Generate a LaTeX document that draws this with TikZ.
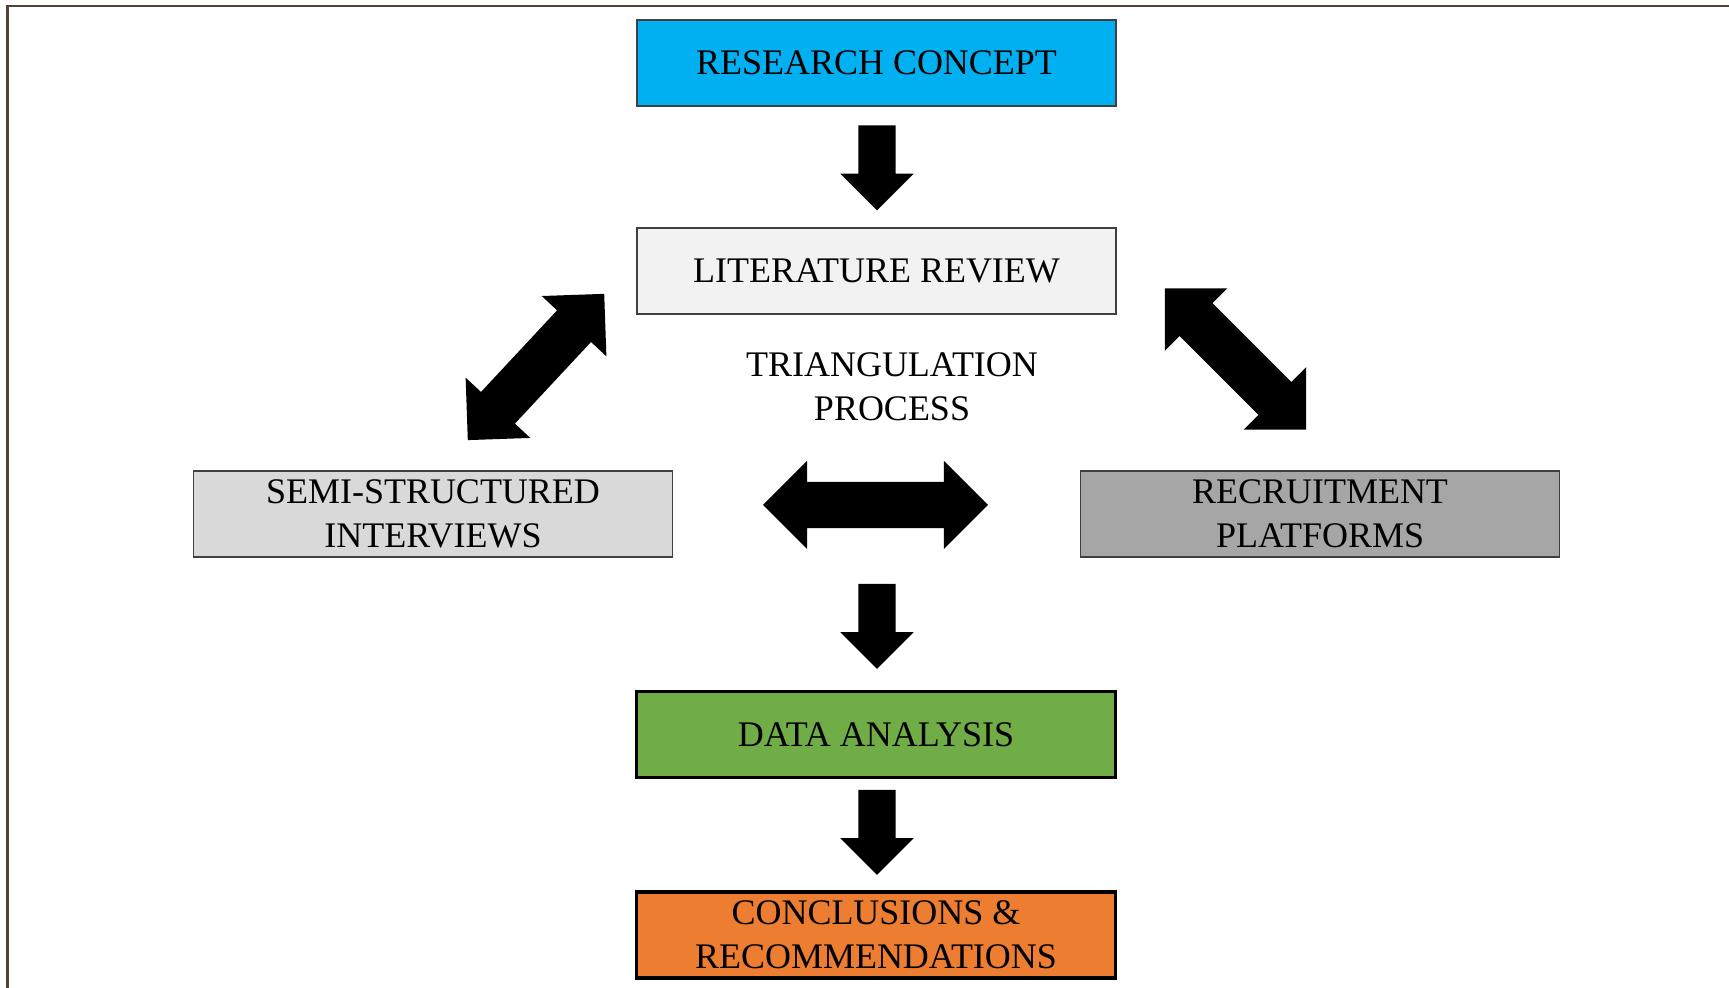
\documentclass[tikz,border=0pt]{standalone}
\usepackage{fontspec}
\setmainfont{Liberation Serif}
\usetikzlibrary{shapes.arrows}

\definecolor{framecol}{HTML}{4E4334}
\definecolor{conceptblue}{HTML}{00B0F0}
\definecolor{litgray}{HTML}{F2F2F2}
\definecolor{semigray}{HTML}{D9D9D9}
\definecolor{recgray}{HTML}{A6A6A6}
\definecolor{datagreen}{HTML}{70AD47}
\definecolor{conclorange}{HTML}{ED7D31}

\tikzset{
  stage/.style={draw=black!75,line width=0.4pt,minimum width=4.79cm,minimum height=0.86cm,
    inner sep=0pt,align=center,font=\fontsize{10.24}{12.5}\selectfont},
  boldstage/.style={stage,draw=black,line width=0.9pt},
  downarrow/.style={single arrow,fill=black,inner xsep=0pt,inner ysep=0.18cm,minimum height=0.85cm,
    single arrow head extend=0.18cm,rotate=-90},
  twoway/.style={double arrow,fill=black,inner xsep=0pt,inner ysep=0.225cm,
    double arrow head extend=0.21cm}
}

\begin{document}
\begin{tikzpicture}
\useasboundingbox(0,0)rectangle(17.29,9.88);
\draw[framecol,line width=0.6pt](17.29,9.82)--(0.075,9.82)--(0.075,0);
% boxes
\node[stage,fill=conceptblue](concept)at(8.765,9.25){RESEARCH CONCEPT};
\node[stage,fill=litgray](litreview)at(8.765,7.17){LITERATURE REVIEW};
\node[stage,fill=semigray](interviews)at(4.33,4.74){SEMI-STRUCTURED\\INTERVIEWS};
\node[stage,fill=recgray](platforms)at(13.20,4.74){RECRUITMENT\\PLATFORMS};
\node[boldstage,fill=datagreen](analysis)at(8.76,2.535){DATA ANALYSIS};
\node[boldstage,fill=conclorange](conclusions)at(8.76,0.53){CONCLUSIONS \&\\RECOMMENDATIONS};
\node[align=center,font=\fontsize{10.24}{12.5}\selectfont](triangulation)at(8.92,6.01){TRIANGULATION\\PROCESS};
% block arrows
\node[downarrow](down1)at(8.77,8.295){};
\node[downarrow](down2)at(8.77,3.71){};
\node[downarrow](down3)at(8.77,1.65){};
\node[twoway,minimum height=2.25cm](across)at(8.755,4.83){};
\node[twoway,minimum height=2.0cm,rotate=47](leftlink)at(5.36,6.21){};
\node[twoway,minimum height=2.0cm,rotate=-45](rightlink)at(12.355,6.29){};
\end{tikzpicture}
\end{document}
